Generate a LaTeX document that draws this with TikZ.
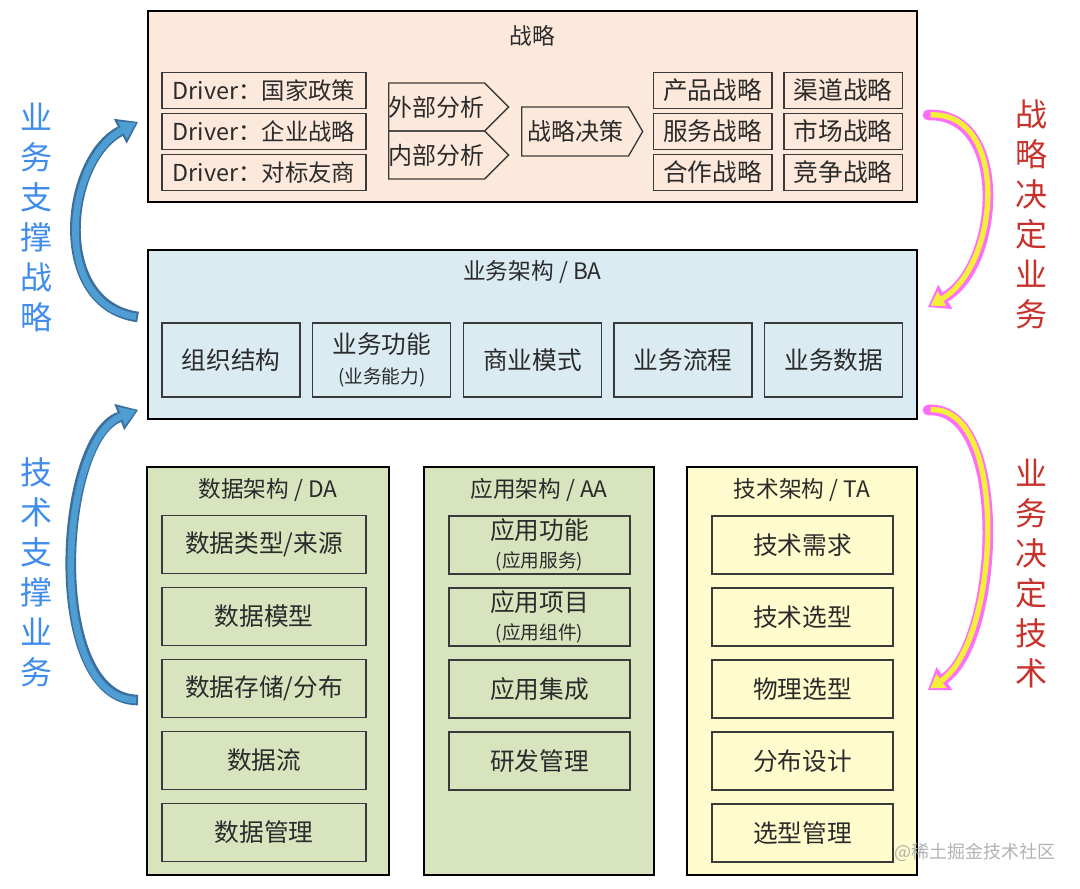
\documentclass[tikz,border=0pt]{standalone}
\usepackage{fontspec}
\setmainfont{Noto Sans CJK SC}
\usetikzlibrary{arrows.meta,positioning,shapes.symbols}

\definecolor{stratfill}{HTML}{FDE9DC}
\definecolor{bafill}{HTML}{DBEBF2}
\definecolor{dafill}{HTML}{D8E4BE}
\definecolor{tafill}{HTML}{FEFCCC}
\definecolor{boxline}{HTML}{3A3A3A}
\definecolor{txtgray}{HTML}{2B2B2B}
\definecolor{supportdark}{HTML}{3C6E9E}
\definecolor{supportlight}{HTML}{4E9DD3}
\definecolor{decidepink}{HTML}{FF6EFA}
\definecolor{decideyellow}{HTML}{F4F03A}
\definecolor{labelblue}{HTML}{3F8CEB}
\definecolor{labelred}{HTML}{C8322C}

\newcommand{\subfont}{\fontsize{14}{16}\selectfont}

\begin{document}
\begin{tikzpicture}[x=0.75pt,y=-0.75pt,
	frame/.style={rectangle,draw=black,line width=1.8pt,inner sep=0pt},
	title/.style={inner sep=0pt,text=txtgray,font=\fontsize{17}{20}\selectfont},
	item/.style={rectangle,draw=boxline,line width=1pt,align=center,inner sep=0pt,text=txtgray,font=\fontsize{18.5}{20}\selectfont},
	driver/.style={item,minimum width=153pt,minimum height=27pt,font=\fontsize{17.5}{20}\selectfont},
	choice/.style={item,minimum width=89pt,minimum height=27pt},
	signalbox/.style={item,shape=signal,signal to=east,signal pointer angle=90,anchor=west,font=\fontsize{18}{20}\selectfont},
	babox/.style={item,minimum width=103.5pt,minimum height=55.5pt},
	dabox/.style={item,minimum width=153pt,minimum height=43.5pt},
	aabox/.style={item,minimum width=135.75pt,minimum height=43.5pt},
	sidelabel/.style={align=center,inner sep=0pt,font=\fontsize{24}{30}\selectfont},
	supportedge/.style={draw=supportdark,line width=8pt,-{Triangle[length=15pt,width=21pt,line width=0pt]}},
	supportcore/.style={draw=supportlight,line width=5pt,shorten <=1.5pt,shorten >=1.8pt,-{Triangle[length=11.5pt,width=15pt,line width=0pt]}},
	decideedge/.style={draw=decidepink,line width=8pt,line cap=round,-{Triangle[length=15pt,width=21pt,line width=0pt]}},
	decidecore/.style={draw=decideyellow,line width=4pt,shorten <=2pt,shorten >=2.2pt,-{Triangle[length=10pt,width=13pt,line width=0pt]}}]

	\useasboundingbox (0,0) rectangle (1080,888);

	% strategy layer
	\node[frame,fill=stratfill,minimum width=576.75pt,minimum height=143.25pt] (strategy) at (532.5,106.5) {};
	\node[title] (strategy-title) at (532.5,36) {战略};

	\node[driver] (driver1) at (264,90.5) {Driver：国家政策};
	\node[driver, below=2.75pt of driver1] (driver2) {Driver：企业战略};
	\node[driver, below=2.75pt of driver2] (driver3) {Driver：对标友商};

	\node[signalbox,minimum width=90pt,minimum height=36pt] (external) at (388,107) {外部分析};
	\node[signalbox,minimum width=90pt,minimum height=36pt] (internal) at (388,155) {内部分析};
	\node[signalbox,signal pointer angle=120,minimum width=90.75pt,minimum height=36.75pt] (decision) at (521,131.5) {战略决策};

	\node[choice] (product) at (712.5,90.5) {产品战略};
	\node[choice, below=2.75pt of product] (service) {服务战略};
	\node[choice, below=2.75pt of service] (coop) {合作战略};
	\node[choice, right=8pt of product] (channel) {渠道战略};
	\node[choice, right=8pt of service] (market) {市场战略};
	\node[choice, right=8pt of coop] (compete) {竞争战略};

	% business architecture
	\node[frame,fill=bafill,minimum width=576.75pt,minimum height=126.75pt] (ba) at (532.5,334.5) {};
	\node[title] (ba-title) at (532.5,272) {业务架构 / BA};

	\node[babox] (ba-org) at (231,360) {组织结构};
	\node[babox, right=8.5pt of ba-org] (ba-function) {业务功能\\[3pt]{\subfont (业务能力)}};
	\node[babox, right=8.5pt of ba-function] (ba-model) {商业模式};
	\node[babox, right=8.5pt of ba-model] (ba-process) {业务流程};
	\node[babox, right=8.5pt of ba-process] (ba-data) {业务数据};

	% data architecture
	\node[frame,fill=dafill,minimum width=181.5pt,minimum height=306pt] (da) at (268,671) {};
	\node[title] (da-title) at (268,490) {数据架构 / DA};

	\node[dabox] (da-type) at (264,544.5) {数据类型/来源};
	\node[dabox, below=9.5pt of da-type] (da-model) {数据模型};
	\node[dabox, below=9.5pt of da-model] (da-store) {数据存储/分布};
	\node[dabox, below=9.5pt of da-store] (da-flow) {数据流};
	\node[dabox, below=9.5pt of da-flow] (da-manage) {数据管理};

	% application architecture
	\node[frame,fill=dafill,minimum width=172.5pt,minimum height=306pt] (aa) at (539,671) {};
	\node[title] (aa-title) at (539,490) {应用架构 / AA};

	\node[aabox] (aa-function) at (539.5,545) {应用功能\\[1pt]{\subfont (应用服务)}};
	\node[aabox, below=9.5pt of aa-function] (aa-project) {应用项目\\[1pt]{\subfont (应用组件)}};
	\node[aabox, below=9.5pt of aa-project] (aa-integrate) {应用集成};
	\node[aabox, below=9.5pt of aa-integrate] (aa-rd) {研发管理};

	% technology architecture
	\node[frame,fill=tafill,minimum width=172.5pt,minimum height=306pt] (ta) at (802,671) {};
	\node[title] (ta-title) at (802,490) {技术架构 / TA};

	\node[aabox] (ta-need) at (802.5,545) {技术需求};
	\node[aabox, below=9.5pt of ta-need] (ta-select) {技术选型};
	\node[aabox, below=9.5pt of ta-select] (ta-physical) {物理选型};
	\node[aabox, below=9.5pt of ta-physical] (ta-distribute) {分布设计};
	\node[aabox, below=9.5pt of ta-distribute] (ta-manage) {选型管理};

	% side labels
	\node[sidelabel,text=labelblue] (support-strategy) at (37,217.5) {业\\务\\支\\撑\\战\\略};
	\node[sidelabel,text=labelblue] (support-business) at (37,572.5) {技\\术\\支\\撑\\业\\务};
	\node[sidelabel,text=labelred] (decide-business) at (1031,214) {战\\略\\决\\定\\业\\务};
	\node[sidelabel,text=labelred] (decide-tech) at (1031,574) {业\\务\\决\\定\\技\\术};

	% curved arrows
	\coordinate (ba-left) at (138,317);
	\coordinate (strategy-left) at (138,122);
	\coordinate (da-left) at (138,700);
	\coordinate (ba-left-top) at (138,410);
	\coordinate (strategy-right) at (928,115);
	\coordinate (ba-right) at (928,307);
	\coordinate (ba-right-bottom) at (928,410);
	\coordinate (ta-right) at (928,690);

	\draw[supportedge] (ba-left) .. controls (50,305) and (65,160) .. (strategy-left);
	\draw[supportcore] (ba-left) .. controls (50,305) and (65,160) .. (strategy-left);
	\draw[supportedge] (da-left) .. controls (45,700) and (58,440) .. (ba-left-top);
	\draw[supportcore] (da-left) .. controls (45,700) and (58,440) .. (ba-left-top);

	\draw[decideedge] (strategy-right) .. controls (1010,112) and (1000,265) .. (ba-right);
	\draw[decidecore] (strategy-right) .. controls (1010,112) and (1000,265) .. (ba-right);
	\draw[decideedge] (ba-right-bottom) .. controls (1010,405) and (1000,640) .. (ta-right);
	\draw[decidecore] (ba-right-bottom) .. controls (1010,405) and (1000,640) .. (ta-right);

	\node[font=\fontsize{13.5}{14}\selectfont,text=gray!60] (watermark) at (975,852) {@稀土掘金技术社区};

\end{tikzpicture}
\end{document}
